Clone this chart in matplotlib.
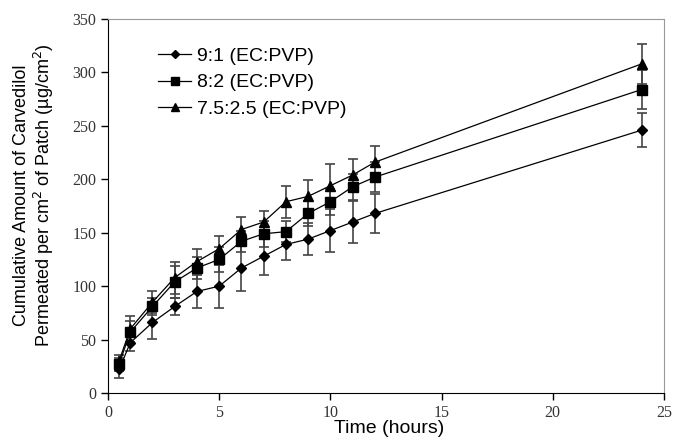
import numpy as np
from matplotlib import pyplot as plt

time_h = [0.5, 1, 2, 3, 4, 5, 6, 7, 8, 9, 10, 11, 12, 24]

ec_91 = [22, 47, 66, 81, 95, 100, 117, 128, 139, 144, 152, 160, 168, 246]
ec_91_err = [8, 8, 15, 8, 15, 20, 22, 18, 15, 15, 20, 20, 18, 16]

ec_82 = [27, 57, 81, 104, 117, 125, 142, 149, 151, 168, 179, 193, 202, 284]
ec_82_err = [6, 10, 8, 15, 10, 12, 10, 12, 10, 12, 12, 12, 14, 18]

ec_7525 = [30, 60, 85, 108, 123, 135, 153, 160, 179, 184, 194, 204, 216, 308]
ec_7525_err = [6, 12, 10, 15, 12, 12, 12, 10, 15, 15, 20, 15, 15, 19]

series = [
    ('9:1 (EC:PVP)', ec_91, ec_91_err, 'D', 5),
    ('8:2 (EC:PVP)', ec_82, ec_82_err, 's', 6.5),
    ('7.5:2.5 (EC:PVP)', ec_7525, ec_7525_err, '^', 7),
]

fig = plt.figure(figsize=(6.73, 4.47), dpi=100)
ax = fig.add_axes([0.1605, 0.1208, 0.826, 0.8367])

for label, vals, err, mk, ms in series:
    ax.errorbar(time_h, vals, yerr=err, fmt='none', ecolor='#444444',
                elinewidth=1.2, capsize=3.5, capthick=1.2, zorder=2)
    ax.plot(time_h, vals, color='black', lw=0.9, marker=mk, ms=ms,
            mfc='black', mec='black', label=label, zorder=3)

ax.set_xlim(0, 25)
ax.set_ylim(0, 350)
ax.set_xticks([0, 5, 10, 15, 20, 25])
ax.set_yticks(np.arange(0, 351, 50))

for s in ['top', 'right']:
    ax.spines[s].set_color('#999999')
for s in ['left', 'bottom']:
    ax.spines[s].set_color('black')
ax.tick_params(direction='out', length=5, width=1, colors='black',
               labelsize=11.5)
for lab in ax.get_xticklabels() + ax.get_yticklabels():
    lab.set_family('Liberation Serif')
    lab.set_color('#333333')

ax.set_xlabel('Time (hours)', family='Liberation Sans', fontsize=14, labelpad=0)
ax.xaxis.set_label_coords(0.505, -0.071)
ax.set_ylabel('Cumulative Amount of Carvedilol\nPermeated per cm$^2$ of Patch (\u00b5g/cm$^2$)',
              family='Liberation Sans', fontsize=13, linespacing=1.1)
ax.yaxis.set_label_coords(-0.094, 0.53)

leg = ax.legend(loc='upper left', bbox_to_anchor=(0.076, 0.945), frameon=False,
                prop={'family': 'Liberation Sans', 'size': 14},
                handlelength=1.7, handletextpad=0.3, labelspacing=0.45,
                borderaxespad=0, markerscale=0.8)

plt.savefig('out.png', dpi=100)
